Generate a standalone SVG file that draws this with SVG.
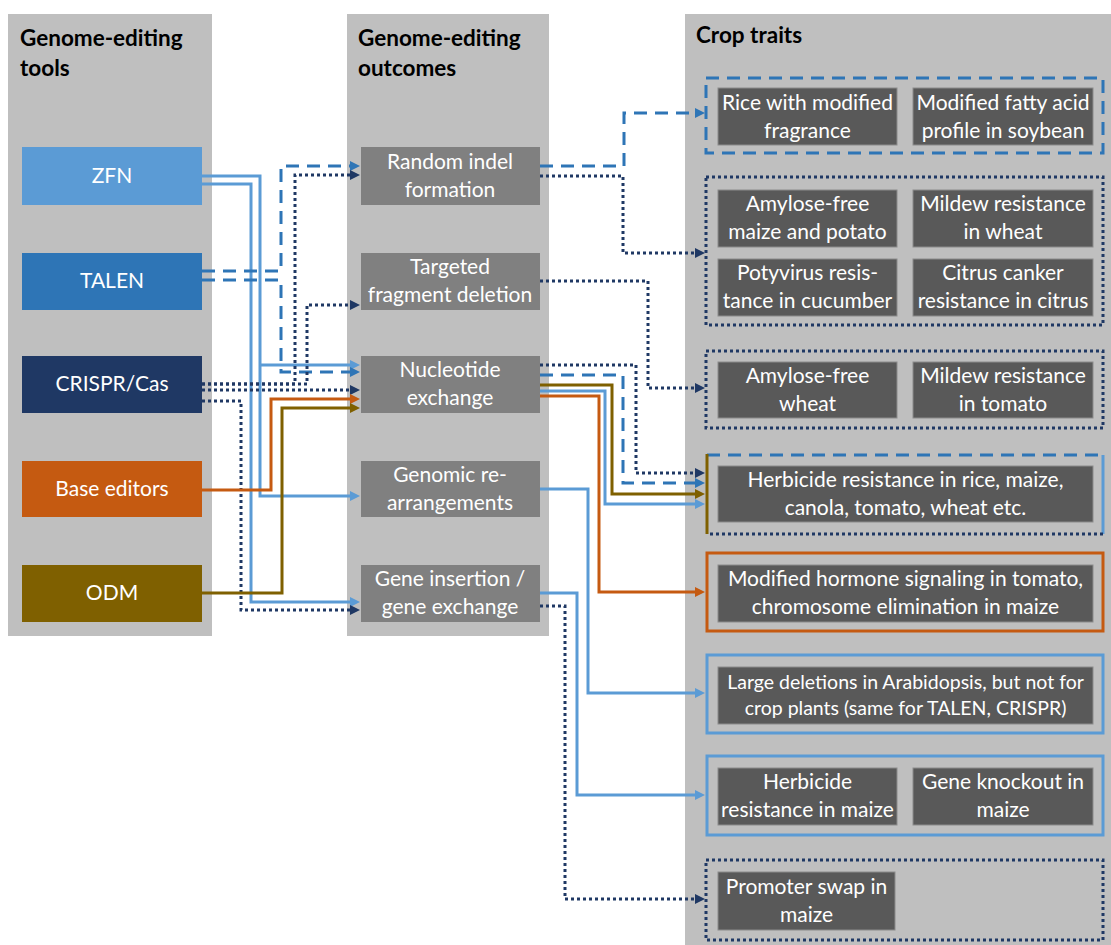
<svg xmlns="http://www.w3.org/2000/svg" width="1111" height="945" viewBox="0 0 1111 945">
<style>
.col{fill:#BFBFBF}
.title{font-family:Lato,"Liberation Sans",sans-serif;font-weight:bold;font-size:22.5px;fill:#000}
.t{font-family:Lato,"Liberation Sans",sans-serif;font-size:21px;fill:#fff;text-anchor:middle}
.ts{font-family:Lato,"Liberation Sans",sans-serif;font-size:19.5px;fill:#fff;text-anchor:middle}
.mid{fill:#808080}
.inner{fill:#595959;stroke:#8C8C8C;stroke-width:1}
.c{fill:none;stroke-width:3;stroke-linejoin:miter}
.lb{stroke:#5B9BD5}
.db{stroke:#2E75B6;stroke-dasharray:13 8}
.dk{stroke:#1F3864;stroke-dasharray:3 3}
.or{stroke:#C55A11}
.ol{stroke:#7F6000}
</style>
<defs>
<marker id="aLB" viewBox="0 0 10 10" refX="2" refY="5" markerWidth="10" markerHeight="10" markerUnits="userSpaceOnUse" orient="auto"><path d="M0,0 L10,5 L0,10 z" fill="#5B9BD5"/></marker>
<marker id="aDB" viewBox="0 0 10 10" refX="2" refY="5" markerWidth="10" markerHeight="10" markerUnits="userSpaceOnUse" orient="auto"><path d="M0,0 L10,5 L0,10 z" fill="#2E75B6"/></marker>
<marker id="aDK" viewBox="0 0 10 10" refX="2" refY="5" markerWidth="10" markerHeight="10" markerUnits="userSpaceOnUse" orient="auto"><path d="M0,0 L10,5 L0,10 z" fill="#1F3864"/></marker>
<marker id="aOR" viewBox="0 0 10 10" refX="2" refY="5" markerWidth="10" markerHeight="10" markerUnits="userSpaceOnUse" orient="auto"><path d="M0,0 L10,5 L0,10 z" fill="#C55A11"/></marker>
<marker id="aOL" viewBox="0 0 10 10" refX="2" refY="5" markerWidth="10" markerHeight="10" markerUnits="userSpaceOnUse" orient="auto"><path d="M0,0 L10,5 L0,10 z" fill="#7F6000"/></marker>
</defs>
<rect width="1111" height="945" fill="#fff"/>
<g id="columns">
<rect class="col" x="8" y="14" width="204" height="622"/>
<rect class="col" x="347" y="14" width="202" height="622"/>
<rect class="col" x="685" y="14" width="426" height="931"/>
<text class="title" x="20" y="46">Genome-editing</text>
<text class="title" x="20" y="76">tools</text>
<text class="title" x="358" y="46">Genome-editing</text>
<text class="title" x="358" y="76">outcomes</text>
<text class="title" x="696" y="43">Crop traits</text>
</g>
<g id="tool-zfn"><rect x="22" y="147" width="180" height="58" fill="#5B9BD5"/><text class="t" x="112" y="183">ZFN</text></g>
<g id="tool-talen"><rect x="22" y="253" width="180" height="57" fill="#2E75B6"/><text class="t" x="112" y="288">TALEN</text></g>
<g id="tool-crispr"><rect x="22" y="356" width="180" height="57" fill="#1F3864"/><text class="t" x="112" y="391">CRISPR/Cas</text></g>
<g id="tool-base"><rect x="22" y="461" width="180" height="56" fill="#C55A11"/><text class="t" x="112" y="496">Base editors</text></g>
<g id="tool-odm"><rect x="22" y="565" width="180" height="57" fill="#7F6000"/><text class="t" x="112" y="600">ODM</text></g>
<g id="out-indel"><rect class="mid" x="361" y="147" width="179" height="58"/><text class="t" x="450" y="169">Random indel</text><text class="t" x="450" y="197">formation</text></g>
<g id="out-fragment"><rect class="mid" x="361" y="253" width="179" height="57"/><text class="t" x="450" y="274">Targeted</text><text class="t" x="450" y="302">fragment deletion</text></g>
<g id="out-nucleotide"><rect class="mid" x="361" y="356" width="179" height="57"/><text class="t" x="450" y="377">Nucleotide</text><text class="t" x="450" y="405">exchange</text></g>
<g id="out-rearr"><rect class="mid" x="361" y="461" width="179" height="56"/><text class="t" x="450" y="482">Genomic re-</text><text class="t" x="450" y="510">arrangements</text></g>
<g id="out-insertion"><rect class="mid" x="361" y="565" width="179" height="57"/><text class="t" x="450" y="586">Gene insertion /</text><text class="t" x="450" y="614">gene exchange</text></g>
<g id="trait-1">
<rect x="706" y="78" width="397" height="75" fill="none" stroke="#2E75B6" stroke-width="3" stroke-dasharray="13 8"/>
<rect class="inner" x="718" y="88" width="179" height="57"/><text class="t" x="807.5" y="110">Rice with modified</text><text class="t" x="807.5" y="138">fragrance</text>
<rect class="inner" x="913" y="88" width="180" height="57"/><text class="t" x="1003" y="110">Modified fatty acid</text><text class="t" x="1003" y="138">profile in soybean</text>
</g>
<g id="trait-2">
<rect x="706" y="177" width="397" height="148" fill="none" stroke="#1F3864" stroke-width="3" stroke-dasharray="3 3"/>
<rect class="inner" x="718" y="190" width="179" height="57"/><text class="t" x="807.5" y="211">Amylose-free</text><text class="t" x="807.5" y="239">maize and potato</text>
<rect class="inner" x="913" y="190" width="180" height="57"/><text class="t" x="1003" y="211">Mildew resistance</text><text class="t" x="1003" y="239">in wheat</text>
<rect class="inner" x="718" y="259" width="179" height="57"/><text class="t" x="807.5" y="280">Potyvirus resis-</text><text class="t" x="807.5" y="308">tance in cucumber</text>
<rect class="inner" x="913" y="259" width="180" height="57"/><text class="t" x="1003" y="280">Citrus canker</text><text class="t" x="1003" y="308">resistance in citrus</text>
</g>
<g id="trait-3">
<rect x="706" y="351" width="397" height="77" fill="none" stroke="#1F3864" stroke-width="3" stroke-dasharray="3 3"/>
<rect class="inner" x="718" y="362" width="179" height="56"/><text class="t" x="807.5" y="383">Amylose-free</text><text class="t" x="807.5" y="411">wheat</text>
<rect class="inner" x="913" y="362" width="180" height="56"/><text class="t" x="1003" y="383">Mildew resistance</text><text class="t" x="1003" y="411">in tomato</text>
</g>
<g id="trait-4">
<path d="M707,455 H1103" fill="none" stroke="#2E75B6" stroke-width="3" stroke-dasharray="13 8"/>
<path d="M1103,455 V534" fill="none" stroke="#5B9BD5" stroke-width="3"/>
<path d="M1103,534 H707" fill="none" stroke="#1F3864" stroke-width="3" stroke-dasharray="3 3"/>
<path d="M707,454 V534" fill="none" stroke="#7F6000" stroke-width="3"/>
<rect class="inner" x="718" y="466" width="375" height="56"/><text class="t" x="905.5" y="487">Herbicide resistance in rice, maize,</text><text class="t" x="905.5" y="515">canola, tomato, wheat etc.</text>
</g>
<g id="trait-5">
<rect x="707" y="553" width="396" height="78" fill="none" stroke="#C55A11" stroke-width="3"/>
<rect class="inner" x="718" y="565" width="375" height="57"/><text class="t" x="905.5" y="586">Modified hormone signaling in tomato,</text><text class="t" x="905.5" y="614">chromosome elimination in maize</text>
</g>
<g id="trait-6">
<rect x="707" y="655" width="396" height="78" fill="none" stroke="#5B9BD5" stroke-width="3"/>
<rect class="inner" x="718" y="667" width="375" height="57"/><text class="ts" x="905.5" y="689">Large deletions in Arabidopsis, but not for</text><text class="ts" x="905.5" y="715">crop plants (same for TALEN, CRISPR)</text>
</g>
<g id="trait-7">
<rect x="707" y="756" width="396" height="79" fill="none" stroke="#5B9BD5" stroke-width="3"/>
<rect class="inner" x="718" y="768" width="179" height="57"/><text class="t" x="807.5" y="789">Herbicide</text><text class="t" x="807.5" y="817">resistance in maize</text>
<rect class="inner" x="913" y="768" width="180" height="57"/><text class="t" x="1003" y="789">Gene knockout in</text><text class="t" x="1003" y="817">maize</text>
</g>
<g id="trait-8">
<rect x="706" y="860" width="397" height="80" fill="none" stroke="#1F3864" stroke-width="3" stroke-dasharray="3 3"/>
<rect class="inner" x="718" y="872" width="177" height="58"/><text class="t" x="806.5" y="894">Promoter swap in</text><text class="t" x="806.5" y="922">maize</text>
</g>
<g id="connectors">
<path class="c lb" d="M202,176 H260 V496 H352" marker-end="url(#aLB)"/>
<path class="c lb" d="M260,365 H352" marker-end="url(#aLB)"/>
<path class="c lb" d="M202,184 H251 V602 H352" marker-end="url(#aLB)"/>
<path class="c db" d="M202,271 H281 V166 H352" marker-end="url(#aDB)"/>
<path class="c db" d="M202,280 H281 V372 H352" marker-end="url(#aDB)"/>
<path class="c dk" d="M202,384 H295 V175 H352" marker-end="url(#aDK)"/>
<path class="c dk" d="M202,384 H307 V305 H352" marker-end="url(#aDK)"/>
<path class="c dk" d="M202,390 H352" marker-end="url(#aDK)"/>
<path class="c dk" d="M202,401 H241 V610 H352" marker-end="url(#aDK)"/>
<path class="c or" d="M202,490 H271 V399 H352" marker-end="url(#aOR)"/>
<path class="c ol" d="M202,593 H282 V408 H352" marker-end="url(#aOL)"/>
<path class="c db" d="M540,166 H624 V113 H697" marker-end="url(#aDB)"/>
<path class="c dk" d="M540,176 H623 V253 H697" marker-end="url(#aDK)"/>
<path class="c dk" d="M540,281 H648 V388 H697" marker-end="url(#aDK)"/>
<path class="c dk" d="M540,365 H636 V473 H697" marker-end="url(#aDK)"/>
<path class="c db" d="M540,375 H623 V483 H697" marker-end="url(#aDB)"/>
<path class="c ol" d="M540,385 H612 V494 H697" marker-end="url(#aOL)"/>
<path class="c lb" d="M540,391 H605 V504 H697" marker-end="url(#aLB)"/>
<path class="c or" d="M540,396 H599 V592 H697" marker-end="url(#aOR)"/>
<path class="c lb" d="M540,489 H588 V693 H697" marker-end="url(#aLB)"/>
<path class="c lb" d="M540,593 H577 V795 H697" marker-end="url(#aLB)"/>
<path class="c dk" d="M540,606 H565 V899 H697" marker-end="url(#aDK)"/>
</g>
</svg>
